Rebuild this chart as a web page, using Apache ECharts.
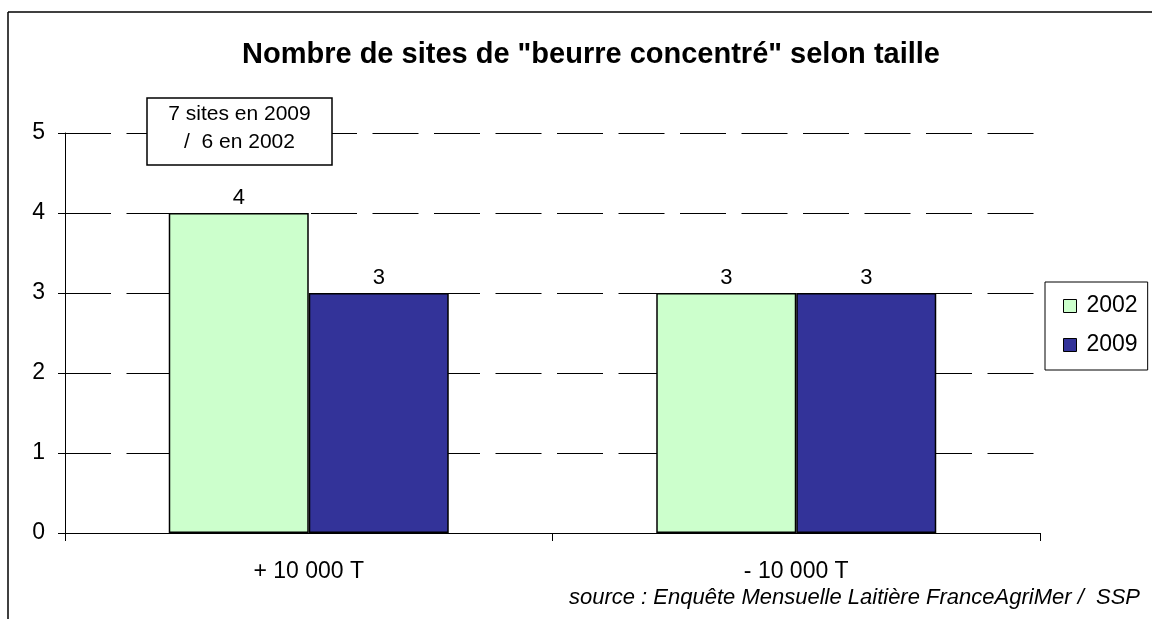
<!DOCTYPE html>
<html>
<head>
<meta charset="utf-8">
<script src="https://cdn.jsdelivr.net/npm/echarts@6/dist/echarts.min.js"></script>
<style>
  html, body { margin: 0; padding: 0; background: #fff; }
  #chart { width: 1152px; height: 619px; }
</style>
</head>
<body>
<div id="chart"></div>
<script>
var categories = ['+ 10 000 T', '- 10 000 T'];
var serie2002 = [4, 3];
var serie2009 = [3, 3];
var seriesNames = ['2002', '2009'];
var yTicks = [0, 1, 2, 3, 4, 5];

var font = '"Liberation Sans", Arial, sans-serif';
var chart = echarts.init(document.getElementById('chart'));

function barSerie(name, data, color) {
    return {
        name: name,
        type: 'bar',
        data: data,
        barWidth: 140,
        barGap: '0%',
        itemStyle: { color: color, borderColor: '#000', borderWidth: 1.5 },
        label: {
            show: true, position: 'top', distance: 4,
            color: '#000', fontSize: 22, fontFamily: font
        },
        emphasis: { disabled: true }
    };
}

chart.setOption({
    animation: false,
    title: {
        text: 'Nombre de sites de "beurre concentré" selon taille',
        left: 586, top: 35, textAlign: 'center',
        textStyle: { fontSize: 29, fontWeight: 'bold', color: '#000', fontFamily: font }
    },
    grid: { left: 65, right: 112, top: 133, bottom: 86, containLabel: false },
    legend: {
        data: seriesNames,
        orient: 'vertical',
        left: 1045, top: 282,
        padding: [12, 10, 13, 18],
        itemGap: 15,
        itemWidth: 13, itemHeight: 13,
        icon: 'rect',
        borderColor: '#000', borderWidth: 1,
        itemStyle: { borderColor: '#000', borderWidth: 1 },
        textStyle: { fontSize: 23, color: '#000', fontFamily: font, lineHeight: 24, padding: [0, 0, 0, 5] }
    },
    xAxis: {
        type: 'category',
        data: categories,
        axisLine: { lineStyle: { color: '#000', width: 1 } },
        axisTick: { show: true, length: 8, lineStyle: { color: '#000' } },
        axisLabel: { color: '#000', fontSize: 23, fontFamily: font, margin: 27 }
    },
    yAxis: {
        type: 'value',
        min: yTicks[0], max: yTicks[yTicks.length - 1], interval: 1,
        axisLine: { show: true, lineStyle: { color: '#000', width: 1 } },
        axisTick: { show: true, length: 7, lineStyle: { color: '#000' } },
        axisLabel: { color: '#000', fontSize: 23, fontFamily: font, margin: 20 },
        splitLine: { show: true, lineStyle: { color: '#000', width: 1, type: [46, 15.5] } }
    },
    series: [
        barSerie(seriesNames[0], serie2002, '#CCFFCC'),
        barSerie(seriesNames[1], serie2009, '#333399')
    ],
    graphic: [
        // bordure de la zone graphique (coupée à droite et en bas)
        { type: 'line', shape: { x1: 8, y1: 12, x2: 1152, y2: 12 }, style: { stroke: '#000', lineWidth: 1.5 } },
        { type: 'line', shape: { x1: 8, y1: 12, x2: 8, y2: 619 }, style: { stroke: '#000', lineWidth: 1.5 } },
        // encadré annotation
        {
            type: 'rect', z: 10,
            shape: { x: 147, y: 98, width: 185, height: 67 },
            style: { fill: '#fff', stroke: '#000', lineWidth: 1.5 }
        },
        {
            type: 'text', z: 11,
            style: {
                x: 239.5, y: 128,
                text: '7 sites en 2009\n/  6 en 2002', align: 'center', verticalAlign: 'middle',
                fill: '#000', fontSize: 21, lineHeight: 28, fontFamily: font
            }
        },
        {
            type: 'text', right: 12, top: 587,
            style: {
                text: 'source : Enquête Mensuelle Laitière FranceAgriMer /  SSP',
                fill: '#000', fontSize: 22, fontStyle: 'italic', fontFamily: font
            }
        }
    ]
});
</script>
</body>
</html>
